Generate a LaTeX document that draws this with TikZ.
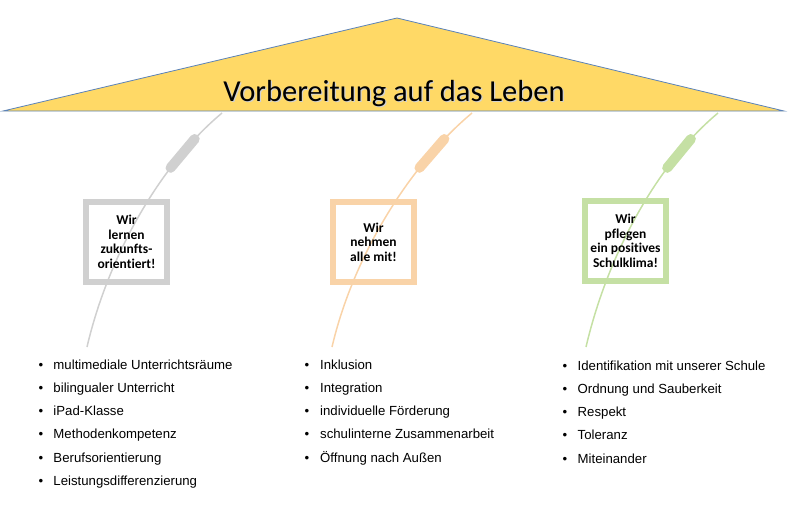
\documentclass[tikz,border=0pt]{standalone}
\usepackage{fontspec}
\setmainfont{Liberation Sans}
\newfontfamily\calibri[Ligatures=CommonOff]{Carlito}
\usepackage{tikz}
\usetikzlibrary{positioning}
\definecolor{dachgelb}{HTML}{FFD966}
\definecolor{dachrand}{HTML}{5B82B8}
\definecolor{grau}{HTML}{D0D0D0}
\definecolor{pfirsich}{HTML}{F9D3A8}
\definecolor{hellgruen}{HTML}{C5E0A4}
\tikzset{
  dach/.style = {fill=dachgelb, draw=dachrand, line width=0.8pt},
  titel/.style = {anchor=base, inner sep=0pt,
    font=\calibri\fontsize{30.5}{36}\selectfont},
  saeule/.style = {line width=6pt, minimum width=81pt, minimum height=80pt,
    align=center, inner sep=0pt,
    font=\calibri\bfseries\fontsize{13.5}{14.6}\selectfont},% Kasten mit Leitsatz
  halm/.style = {line width=1.5pt},% duenne Linie
  kolben/.style = {line width=10pt, line cap=round},% dicker Teil
  punkt/.style = {anchor=base west, inner sep=0pt,
    font=\fontsize{13.2}{15}\selectfont}% Aufzaehlung
}
\begin{document}
\begin{tikzpicture}[x=1pt, y=-1pt]
	\useasboundingbox (0,0) rectangle (794,509);
	% Dach
	\draw[dach] (3,111) coordinate (dachL) -- (397,18) coordinate (first)
	  -- (784,111) coordinate (dachR) -- cycle;
	\node[titel, text=black!18] (titelschatten) at (395.2,102.7) {Vorbereitung auf das Leben};
	\node[titel] (titel) at (394,101.5) {Vorbereitung auf das Leben};
	% Halme
	\foreach \sx/\ex/\col/\n in {222/87/grau/L, 472/332/pfirsich/M, 718/586/hellgruen/R} {
	  \coordinate (top\n) at (\sx,113);
	  \coordinate (fuss\n) at (\ex,347);
	  \draw[halm, draw=\col] (top\n) .. controls +(-60,50) and +(22,-94) .. (fuss\n)
	    coordinate[pos=0.155] (kA\n) coordinate[pos=0.3] (kB\n);
	  \draw[kolben, draw=\col] (kA\n) -- (kB\n);
	}
	% Leitsaetze
	\node[saeule, draw=grau] (boxL) at (126.5,242) {Wir\\lernen\\zukunfts-\\orientiert!};
	\node[saeule, draw=pfirsich] (boxM) at (373.5,242) {Wir\\nehmen\\alle mit!};
	\node[saeule, draw=hellgruen] (boxR) at (625.5,241) {Wir\\pflegen\\ein positives\\Schulklima!};
	% Listen
	\foreach \t [count=\i from 0] in {multimediale Unterrichtsräume, bilingualer Unterricht,
	    iPad-Klasse, Methodenkompetenz, Berufsorientierung, Leistungsdifferenzierung}
	  \node[punkt] (listeL\i) at (38.5,{369+23.3*\i}) {\makebox[14.8pt][l]{\textbullet}\t};
	\foreach \t [count=\i from 0] in {Inklusion, Integration, individuelle Förderung,
	    schulinterne Zusammenarbeit, Öffnung nach Außen}
	  \node[punkt] (listeM\i) at (304.5,{369+23.3*\i}) {\makebox[15.5pt][l]{\textbullet}\t};
	\foreach \t [count=\i from 0] in {Identifikation mit unserer Schule, Ordnung und Sauberkeit,
	    Respekt, Toleranz, Miteinander}
	  \node[punkt] (listeR\i) at (562.5,{370+23.3*\i}) {\makebox[15pt][l]{\textbullet}\t};
\end{tikzpicture}
\end{document}
